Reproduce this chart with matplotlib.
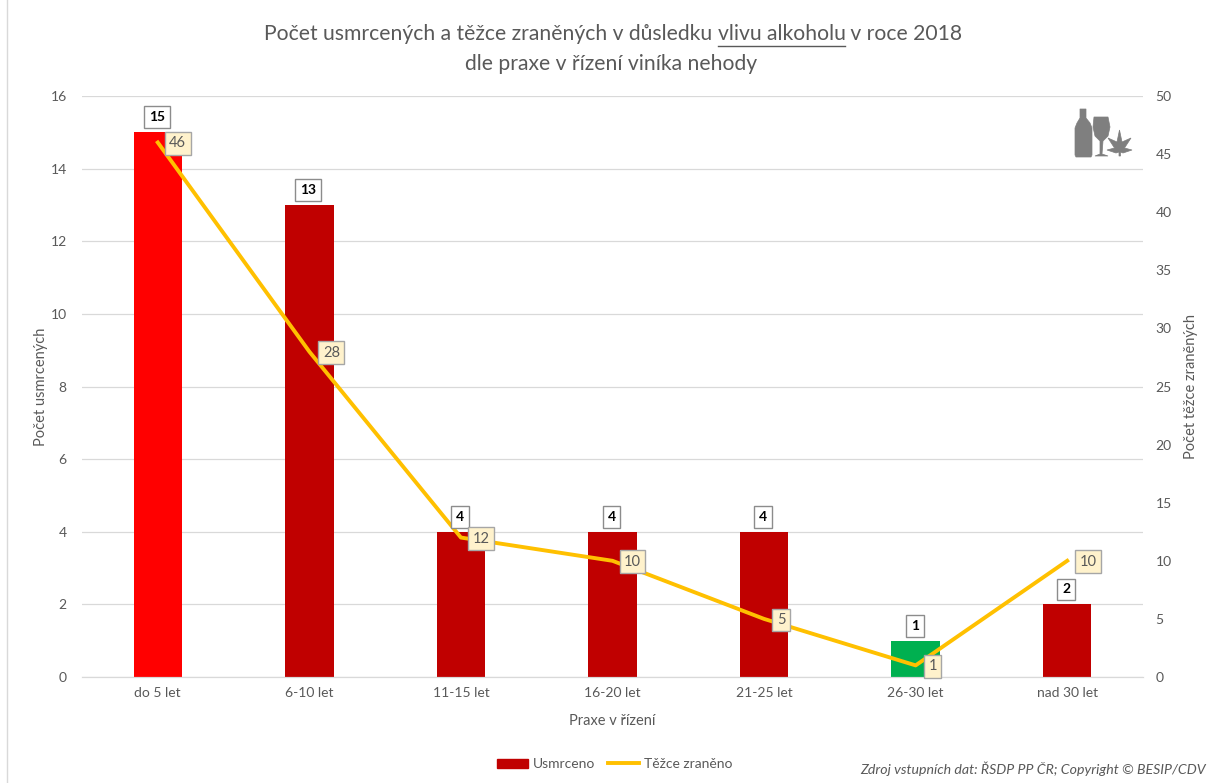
import matplotlib
matplotlib.use("Agg")
import numpy as np
import matplotlib.pyplot as plt
from matplotlib.lines import Line2D
from matplotlib.patches import Patch, Polygon

plt.rcParams['font.family'] = ['Lato', 'DejaVu Sans']

categories = ['do 5 let', '6-10 let', '11-15 let', '16-20 let', '21-25 let', '26-30 let', 'nad 30 let']
usmrceno = [15, 13, 4, 4, 4, 1, 2]
zraneno = [46, 28, 12, 10, 5, 1, 10]
bar_colors = ['#ff0000', '#c00000', '#c00000', '#c00000', '#c00000', '#00b050', '#c00000']
line_label_dx = [20, 22, 20, 20, 17, 17, 21]

W, H = 1213, 783
GRAY = '#595959'


def px(x, y):
    # pixel position measured from the top left -> figure fraction
    return x / W, 1 - y / H


def main():
    fig = plt.figure(figsize=(W / 100, H / 100), dpi=100)
    ax = fig.add_axes([82 / W, 1 - 677 / H, (1143 - 82) / W, (677 - 96) / H])
    ax2 = ax.twinx()

    x_pos = np.arange(len(categories))
    ax.bar(x_pos, usmrceno, width=0.32, color=bar_colors, zorder=2)
    ax.set_xlim(-0.5, 6.5)
    ax.set_ylim(0, 16)
    ax.set_yticks(np.arange(0, 17, 2))
    ax.set_xticks(x_pos)
    ax.set_xticklabels(categories)
    ax.grid(axis='y', color='#d9d9d9', lw=0.9, zorder=0)
    ax.set_axisbelow(True)
    ax.tick_params(length=0, labelsize=10, labelcolor=GRAY, pad=7)
    ax.tick_params(axis='y', pad=11)
    ax.set_ylabel('Počet usmrcených', fontsize=10.5, color=GRAY, labelpad=2)
    ax.set_xlabel('Praxe v řízení', fontsize=10.5, color=GRAY, labelpad=11)

    ax2.plot(x_pos, zraneno, color='#ffc000', lw=2.8, zorder=3, solid_joinstyle='round')
    ax2.set_ylim(0, 50)
    ax2.set_yticks(np.arange(0, 51, 5))
    ax2.tick_params(length=0, labelsize=10, labelcolor=GRAY, pad=9)
    ax2.set_ylabel('Počet těžce zraněných', fontsize=10.5, color=GRAY, labelpad=9)

    for a in (ax, ax2):
        for s in ('top', 'left', 'right'):
            a.spines[s].set_visible(False)
        a.spines['bottom'].set_color('#d9d9d9')

    # data labels
    for i, v in enumerate(usmrceno):
        ax2.annotate(str(v), (x_pos[i], v * 50 / 16), xytext=(-1, 15), textcoords='offset pixels',
                     ha='center', va='center', fontsize=10, fontweight='bold', color='black', zorder=6,
                     bbox=dict(boxstyle='square,pad=0.35', fc='white', ec='#8c8c8c', lw=1))
    for i, v in enumerate(zraneno):
        ax2.annotate(str(v), (x_pos[i], v), xytext=(line_label_dx[i], -1), textcoords='offset pixels',
                     ha='center', va='center', fontsize=10.5, color=GRAY, zorder=7,
                     bbox=dict(boxstyle='square,pad=0.3', fc='#fff2cc', ec='#a6a6a6', lw=1))

    # title, middle part underlined
    fig.text(*px(611, 64), 'dle praxe v řízení viníka nehody', ha='center', va='center', fontsize=15.2, color=GRAY)
    parts = ['Počet usmrcených a těžce zraněných v důsledku ', 'vlivu alkoholu', ' v roce 2018']
    renderer = fig.canvas.get_renderer()
    x = 264
    for n, part in enumerate(parts):
        t = fig.text(*px(x, 34), part.replace(' ', '\u00a0'), ha='left', va='center', fontsize=15.2, color=GRAY)
        w = t.get_window_extent(renderer).width
        if n == 1:
            fig.add_artist(Line2D([px(x, 0)[0], px(x + w, 0)[0]], [px(0, 46)[1]] * 2, color=GRAY, lw=1))
        x += w

    # legend
    handles = [Patch(color='#c00000', label='Usmrceno'), Line2D([0], [0], color='#ffc000', lw=2.8, label='Těžce zraněno')]
    fig.legend(handles=handles, loc='center', bbox_to_anchor=px(615, 764), ncol=2, frameon=False,
               fontsize=10, labelcolor=GRAY, handlelength=2.2, handleheight=0.6, columnspacing=0.9, handletextpad=0.4)

    fig.text(*px(1206, 769), 'Zdroj vstupních dat: ŘSDP PP ČR; Copyright © BESIP/CDV', ha='right', va='center',
             fontsize=10.2, style='italic', color=GRAY)

    # chart frame on the left
    fig.add_artist(Line2D([px(7, 0)[0]] * 2, [0, 1], color='#d9d9d9', lw=1))

    # bottle, glass and leaf icon
    ic = '#7f7f7f'
    def add_fig(p):
        p.set_transform(fig.transFigure)
        p.set_clip_on(False)
        fig.add_artist(p)
    add_fig(Polygon([px(*q) for q in [(1076, 157), (1075, 155), (1075, 128), (1077, 123), (1080, 118), (1080, 109), (1086, 109),
                                      (1086, 118), (1090, 123), (1092, 128), (1092, 155), (1091, 157)]], closed=True, fc=ic, ec=ic, lw=0.5))
    add_fig(Polygon([px(*q) for q in [(1094, 117), (1108, 117), (1110, 127), (1108, 136), (1103, 141), (1102, 154),
                                      (1108, 156), (1095, 156), (1100, 154), (1100, 141), (1095, 136), (1093, 127)]],
                    closed=True, fc=ic, ec=ic, lw=0.5))
    add_fig(Polygon([px(*q) for q in [(1119.5, 130), (1122, 142), (1131, 138), (1124.5, 148), (1132, 150), (1123, 153),
                                      (1120.5, 152), (1120.5, 156), (1119, 156), (1119, 152), (1116, 153), (1107, 150),
                                      (1114.5, 148), (1108, 138), (1117, 142)]], closed=True, fc=ic, ec=ic, lw=0.5))

    plt.savefig('out.png', dpi=100)
    plt.close()


if __name__ == "__main__":
    main()
